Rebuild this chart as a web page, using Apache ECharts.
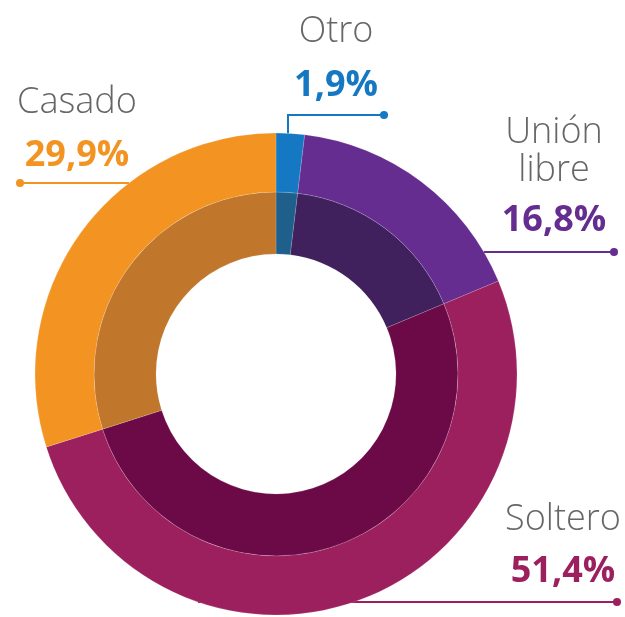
<!DOCTYPE html>
<html><head><meta charset="utf-8">
<script src="https://cdn.jsdelivr.net/npm/echarts@6/dist/echarts.min.js"></script>
<style>html,body{margin:0;padding:0;background:#fff}#c{width:625px;height:617px}</style>
</head><body><div id="c"></div>
<script>
const categories = ["Otro", "Unión libre", "Soltero", "Casado"];
const labelTexts = ["Otro", "Unión\nlibre", "Soltero", "Casado"];
const values = [1.9, 16.8, 51.4, 29.9];
const pctLabels = ["1,9%", "16,8%", "51,4%", "29,9%"];
const outerColors = ["#1578c2", "#662d91", "#9c1f5e", "#f39322"];
const innerColors = ["#1f5f8c", "#40215e", "#6b0a46", "#c0762b"];

const cx = 276, cy = 374, R0 = 120, R1 = 182, R2 = 241;
const chart = echarts.init(document.getElementById('c'));
const font = '"Open Sans", "Noto Sans", sans-serif';

function ringX(y, side){ const dy = y - cy; return cx + side * Math.sqrt(R2*R2 - dy*dy); }

const graphics = [];
function addText(x, y, text, color, size, weight){
  graphics.push({type:'text', x:x, y:y, style:{text:text, fill:color, font: weight+' '+size+'px '+font, textAlign:'center', textVerticalAlign:'middle', lineHeight:38}});
}
function addLine(pts, color){
  graphics.push({type:'polyline', shape:{points:pts}, style:{stroke:color, lineWidth:2, fill:null}});
  const e = pts[pts.length-1];
  graphics.push({type:'circle', shape:{cx:e[0], cy:e[1], r:4}, style:{fill:color}});
}
// Otro
addText(336, 32, labelTexts[0], '#666', 36, 300);
addText(336, 86, pctLabels[0], outerColors[0], 36, 700);
addLine([[288, cy - Math.sqrt(R2*R2 - 12*12)], [288,115], [384,115]], outerColors[0]);
// Unión libre
addText(554, 152, labelTexts[1], '#666', 36, 300);
addText(554, 221, pctLabels[1], outerColors[1], 36, 700);
addLine([[ringX(252,1),252],[614,252]], outerColors[1]);
// Soltero
addText(563, 520, labelTexts[2], '#666', 36, 300);
addText(563, 572, pctLabels[2], outerColors[2], 36, 700);
addLine([[ringX(602,-1),602],[617,602]], outerColors[2]);
// Casado
addText(77, 103, labelTexts[3], '#666', 36, 300);
addText(77, 156, pctLabels[3], outerColors[3], 36, 700);
addLine([[ringX(183,-1),183],[20,183]], outerColors[3]);

function mkData(colors){
  return categories.map((c,i)=>({name:c, value:values[i], itemStyle:{color:colors[i]}}));
}
chart.setOption({
  animation:false,
  series:[
    {type:'pie', center:[cx,cy], radius:[R0,R1], startAngle:90, clockwise:true, label:{show:false}, labelLine:{show:false},
     itemStyle:{borderColor:'rgba(255,255,255,0.25)', borderWidth:0.6}, emphasis:{disabled:true}, data:mkData(innerColors)},
    {type:'pie', center:[cx,cy], radius:[R1,R2], startAngle:90, clockwise:true, label:{show:false}, labelLine:{show:false},
     itemStyle:{borderColor:'rgba(255,255,255,0.25)', borderWidth:0.6}, emphasis:{disabled:true}, data:mkData(outerColors)}
  ],
  graphic: graphics
});
</script></body></html>
